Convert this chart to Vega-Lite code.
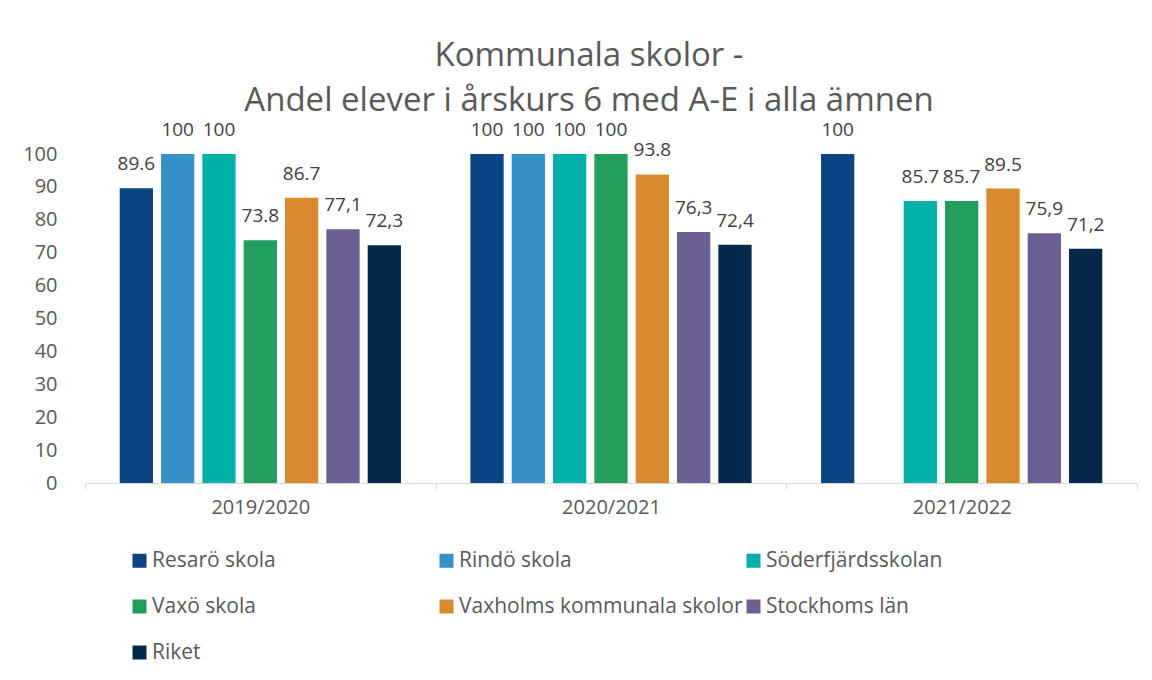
{
  "$schema": "https://vega.github.io/schema/vega-lite/v6.json",
  "width": 1052,
  "height": 329,
  "autosize": {"type": "none"},
  "padding": {"left": 85, "top": 154, "right": 15, "bottom": 197},
  "background": "white",
  "config": {"view": {"stroke": null}},
  "title": {
    "text": ["Kommunala skolor -", "Andel elever i årskurs 6 med A-E i alla ämnen"],
    "font": "Open Sans",
    "fontSize": 33,
    "fontWeight": "normal",
    "color": "#595959",
    "anchor": "middle",
    "lineHeight": 45,
    "dx": -22,
    "offset": 3
  },
  "data": {
    "values": [
      {"year": "2019/2020", "school": "Resarö skola", "value": 89.6, "label": "89.6"},
      {"year": "2019/2020", "school": "Rindö skola", "value": 100, "label": "100"},
      {"year": "2019/2020", "school": "Söderfjärdsskolan", "value": 100, "label": "100"},
      {"year": "2019/2020", "school": "Vaxö skola", "value": 73.8, "label": "73.8"},
      {"year": "2019/2020", "school": "Vaxholms kommunala skolor", "value": 86.7, "label": "86.7"},
      {"year": "2019/2020", "school": "Stockhoms län", "value": 77.1, "label": "77,1"},
      {"year": "2019/2020", "school": "Riket", "value": 72.3, "label": "72,3"},
      {"year": "2020/2021", "school": "Resarö skola", "value": 100, "label": "100"},
      {"year": "2020/2021", "school": "Rindö skola", "value": 100, "label": "100"},
      {"year": "2020/2021", "school": "Söderfjärdsskolan", "value": 100, "label": "100"},
      {"year": "2020/2021", "school": "Vaxö skola", "value": 100, "label": "100"},
      {"year": "2020/2021", "school": "Vaxholms kommunala skolor", "value": 93.8, "label": "93.8"},
      {"year": "2020/2021", "school": "Stockhoms län", "value": 76.3, "label": "76,3"},
      {"year": "2020/2021", "school": "Riket", "value": 72.4, "label": "72,4"},
      {"year": "2021/2022", "school": "Resarö skola", "value": 100, "label": "100"},
      {"year": "2021/2022", "school": "Söderfjärdsskolan", "value": 85.7, "label": "85.7"},
      {"year": "2021/2022", "school": "Vaxö skola", "value": 85.7, "label": "85.7"},
      {"year": "2021/2022", "school": "Vaxholms kommunala skolor", "value": 89.5, "label": "89.5"},
      {"year": "2021/2022", "school": "Stockhoms län", "value": 75.9, "label": "75,9"},
      {"year": "2021/2022", "school": "Riket", "value": 71.2, "label": "71,2"}
    ]
  },
  "encoding": {
    "x": {
      "field": "year",
      "type": "nominal",
      "scale": {"paddingInner": 0, "paddingOuter": 0},
      "axis": {
        "title": null,
        "labelAngle": 0,
        "labelFont": "Open Sans",
        "labelFontSize": 20,
        "labelColor": "#595959",
        "labelPadding": 8,
        "domainColor": "#d9d9d9",
        "tickColor": "#d9d9d9",
        "tickSize": 6,
        "tickBand": "extent",
        "domainWidth": 1
      }
    },
    "xOffset": {
      "field": "school",
      "type": "nominal",
      "sort": ["Resarö skola", "Rindö skola", "Söderfjärdsskolan", "Vaxö skola", "Vaxholms kommunala skolor", "Stockhoms län", "Riket"],
      "scale": {"paddingInner": 0.195, "paddingOuter": 0.84}
    },
    "y": {
      "field": "value",
      "type": "quantitative",
      "scale": {"domain": [0, 100], "nice": false},
      "axis": {
        "title": null,
        "values": [0, 10, 20, 30, 40, 50, 60, 70, 80, 90, 100],
        "grid": false,
        "domain": false,
        "ticks": false,
        "labelFont": "Open Sans",
        "labelFontSize": 20,
        "labelColor": "#595959",
        "labelPadding": 28
      }
    }
  },
  "layer": [
    {
      "mark": {"type": "bar"},
      "encoding": {
        "color": {
          "field": "school",
          "type": "nominal",
          "scale": {
            "domain": ["Resarö skola", "Rindö skola", "Söderfjärdsskolan", "Vaxö skola", "Vaxholms kommunala skolor", "Stockhoms län", "Riket"],
            "range": ["#0a4583", "#3592c6", "#00b0aa", "#219d5c", "#d98b2b", "#6c5f94", "#05294d"]
          },
          "legend": {
            "title": null,
            "orient": "none",
            "direction": "horizontal",
            "legendX": 44,
            "legendY": 396,
            "columns": 3,
            "gridAlign": "all",
            "symbolType": "square",
            "symbolSize": 196,
            "symbolStrokeWidth": 0,
            "labelFont": "Open Sans",
            "labelFontSize": 21,
            "labelColor": "#595959",
            "labelOffset": 2,
            "labelLimit": 400,
            "rowPadding": 24,
            "columnPadding": -5
          }
        }
      }
    },
    {
      "mark": {"type": "text", "font": "Open Sans", "fontSize": 19, "color": "#404040", "baseline": "middle", "dy": -24},
      "encoding": {
        "text": {"field": "label"}
      }
    }
  ]
}
